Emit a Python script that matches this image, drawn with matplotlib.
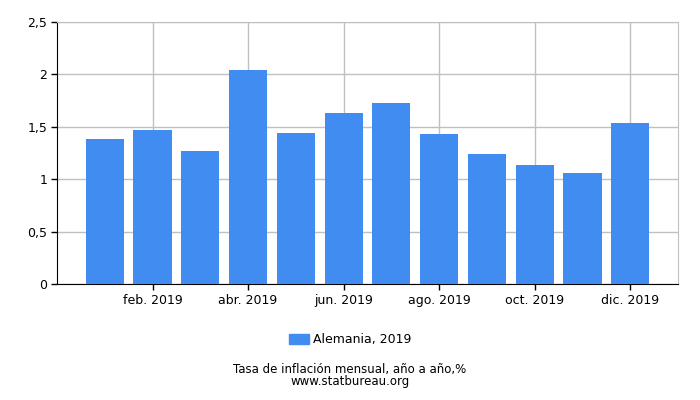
import matplotlib
matplotlib.use("Agg")
import matplotlib.pyplot as plt
from matplotlib.patches import Patch

months = ["ene. 2019", "feb. 2019", "mar. 2019", "abr. 2019", "may. 2019", "jun. 2019",
          "jul. 2019", "ago. 2019", "sep. 2019", "oct. 2019", "nov. 2019", "dic. 2019"]
values = [1.38, 1.47, 1.27, 2.04, 1.44, 1.63, 1.73, 1.43, 1.24, 1.14, 1.06, 1.54]
yticks = [0, 0.5, 1, 1.5, 2, 2.5]
ytick_labels = ["0", "0,5", "1", "1,5", "2", "2,5"]
series_name = "Alemania, 2019"
title = "Tasa de inflación mensual, año a año,%"
source = "www.statbureau.org"

color = "#418cf0"
grid_color = "#c0c0c0"

plt.rcParams['font.family'] = ['DejaVu Sans']
fig = plt.figure(figsize=(7, 4), dpi=100)
ax = fig.add_axes([57/700, 1-284/400, (678-57)/700, (284-22)/400])

x = list(range(len(values)))
ax.bar(x, values, width=0.8, color=color, zorder=3)

ax.set_xlim(-1, len(values))
ax.set_ylim(0, 2.5)
tick_idx = x[1::2]
ax.set_xticks(tick_idx)
ax.set_xticklabels([months[i] for i in tick_idx], fontsize=9)
ax.set_yticks(yticks)
ax.set_yticklabels(ytick_labels, fontsize=9)

ax.grid(True, color=grid_color, linewidth=1, zorder=0)
for s in ["top", "right"]:
    ax.spines[s].set_color(grid_color)
for s in ["left", "bottom"]:
    ax.spines[s].set_color("black")
ax.tick_params(axis="both", direction="out", length=4, color="black", width=1, pad=3)

fig.legend(handles=[Patch(color=color, label=series_name)], loc="center",
           bbox_to_anchor=(0.5, 1-340/400), frameon=False, fontsize=9,
           handlelength=1.6, handleheight=0.8, handletextpad=0.3)
fig.text(0.5, 1-370/400, title, ha="center", va="center", fontsize=8.5)
fig.text(0.5, 1-382/400, source, ha="center", va="center", fontsize=8.5)

fig.savefig("out.png", dpi=100)
